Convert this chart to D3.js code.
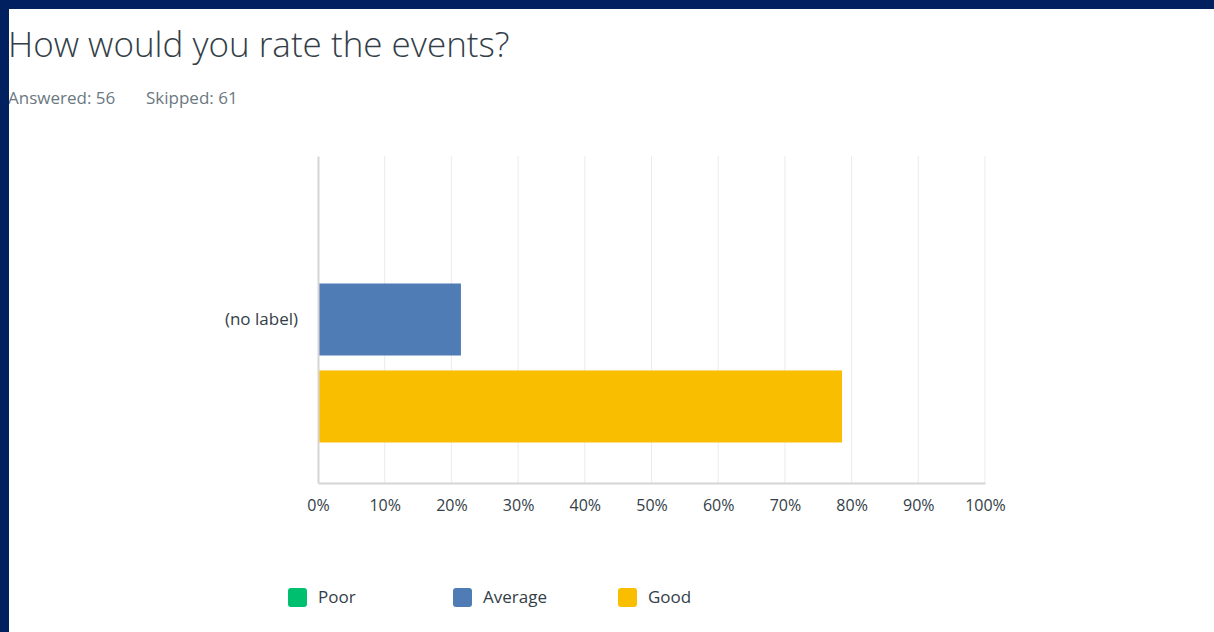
<!DOCTYPE html>
<html>
<head>
<meta charset="utf-8">
<script src="https://cdn.jsdelivr.net/npm/d3@7"></script>
<style>
  body { margin: 0; background: #002060; }
  #page { position: absolute; left: 9px; top: 9px; width: 1205px; height: 623px; background: #fff; }
</style>
</head>
<body>
<div id="page"></div>
<script>
// data
const categories = ["(no label)"];
const seriesNames = ["Poor", "Average", "Good"];
const seriesValues = [0, 21.43, 78.57];
const colors = ["#00bf6f", "#507cb6", "#f9be00"];
const tickValues = [0, 10, 20, 30, 40, 50, 60, 70, 80, 90, 100];
const answered = 56, skipped = 61;

const svg = d3.select("#page").append("svg")
  .attr("width", 1205).attr("height", 623)
  .style("font-family", "'Open Sans', sans-serif");

// title
svg.append("text")
  .attr("x", -1).attr("y", 48)
  .style("font-size", "35px").style("font-weight", 300)
  .attr("fill", "#333e48")
  .text("How would you rate the events?");

svg.append("text")
  .attr("x", -1).attr("y", 95)
  .style("font-size", "17px").attr("fill", "#6b7880")
  .text("Answered: " + answered);
svg.append("text")
  .attr("x", 137).attr("y", 95)
  .style("font-size", "17px").attr("fill", "#6b7880")
  .text("Skipped: " + skipped);

// chart area (page coords = screen - 9)
const cLeft = 309, cRight = 976, cTop = 147, cBottom = 474;

const x = d3.scaleLinear().domain([0, 100]).range([cLeft, cRight]);
const yCat = d3.scaleBand().domain(categories).range([cTop, cBottom]);
const ySeries = d3.scaleBand().domain(seriesNames)
  .range([0, yCat.bandwidth()]).paddingInner(0.172).paddingOuter(0.466);

// grid
svg.append("g").selectAll("line")
  .data(tickValues.slice(1))
  .join("line")
  .attr("x1", d => x(d)).attr("x2", d => x(d))
  .attr("y1", cTop).attr("y2", cBottom)
  .attr("stroke", "#ebebeb").attr("stroke-width", 1);

// bars
svg.append("g").selectAll("rect")
  .data(seriesNames)
  .join("rect")
  .attr("x", x(0))
  .attr("y", (d, i) => yCat(categories[0]) + ySeries(d))
  .attr("width", (d, i) => x(seriesValues[i]) - x(0))
  .attr("height", ySeries.bandwidth())
  .attr("fill", (d, i) => colors[i]);

// axes
const xAxis = svg.append("g")
  .attr("transform", `translate(0,${cBottom})`)
  .call(d3.axisBottom(x).tickValues(tickValues).tickFormat(d => d + "%").tickSize(0).tickPadding(17));
xAxis.select(".domain").attr("stroke", "#d5d5d5").attr("stroke-width", 2);
xAxis.selectAll("text").style("font-size", "16px").attr("fill", "#333e48").style("font-family", "'Open Sans', sans-serif");

const yAxis = svg.append("g")
  .attr("transform", `translate(${cLeft},0)`)
  .call(d3.axisLeft(yCat).tickSize(0).tickPadding(20));
yAxis.select(".domain").attr("stroke", "#d5d5d5").attr("stroke-width", 2);
yAxis.selectAll("text").style("font-size", "17px").attr("fill", "#333e48").style("font-family", "'Open Sans', sans-serif");

// legend
const legend = svg.append("g").selectAll("g")
  .data(seriesNames)
  .join("g")
  .attr("transform", (d, i) => `translate(${279 + i * 165},579)`);
legend.append("rect")
  .attr("width", 19).attr("height", 19).attr("rx", 3)
  .attr("fill", (d, i) => colors[i]);
legend.append("text")
  .attr("x", 30).attr("y", 15)
  .style("font-size", "17px").attr("fill", "#333e48")
  .text(d => d);
</script>
</body>
</html>
